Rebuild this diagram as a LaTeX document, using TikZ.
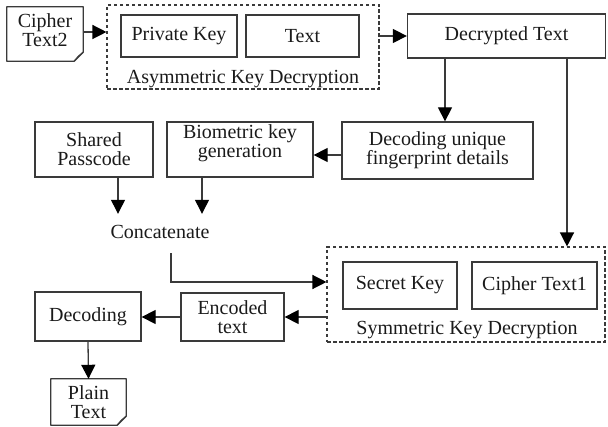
\documentclass[tikz,border=0pt]{standalone}
\usepackage{fontspec}
\setmainfont{Liberation Serif}
\usetikzlibrary{arrows.meta}
\definecolor{ink}{HTML}{3A3A3A}
\definecolor{txt}{HTML}{1A1A1A}
\tikzset{
  box/.style={draw=ink, line width=1.3pt, inner sep=0pt, align=center, text=txt},
  group/.style={draw=ink, line width=1.1pt, dash pattern=on 3.5pt off 2.5pt, inner sep=0pt},
  lbl/.style={inner sep=0pt, align=center, text=txt},
  arr/.style={draw=ink, line width=1.3pt, -{Triangle[length=14pt,width=14pt,color=black]}},
}
% outline of a page with a folded bottom-right corner, drawn round a node
\newcommand{\pageshape}[2]{%
  \draw[ink, line width=1.3pt, line join=round]
    (#1.north west) -- (#1.north east) -- ([yshift=#2]#1.south east)
    -- ([xshift=-#2]#1.south east) -- (#1.south west) -- cycle;
  \draw[ink, line width=1.0pt, line join=round]
    ([yshift=#2]#1.south east) -- ([xshift=-0.55*#2,yshift=0.55*#2]#1.south east)
    -- ([xshift=-#2]#1.south east);
}
\begin{document}
\begin{tikzpicture}[x=1pt, y=-1pt, font=\fontsize{20}{19}\selectfont]
\useasboundingbox (0,0) rectangle (608,427);

% ---- asymmetric stage ----
\node[lbl, minimum width=76pt, minimum height=54pt] (c2) at (45,34) {};
\pageshape{c2}{9pt}
\node[lbl] (c2t) at (45,30) {Cipher\\Text2};

\node[group, minimum width=272pt, minimum height=84pt] (asym) at (243,47) {};
\node[box, minimum width=116pt, minimum height=42pt] (pk) at (179,36) {Private Key};
\node[box, minimum width=113pt, minimum height=42pt] (tx) at (302.5,36) {Text};
\node[lbl] (asyml) at (243,79) {Asymmetric Key Decryption};

\node[box, minimum width=198pt, minimum height=44pt] (dec) at (506.5,36) {Decrypted Text};

% ---- key generation ----
\node[box, minimum width=191pt, minimum height=57pt] (duf) at (437.5,150.5) {Decoding unique\\fingerprint details};
\node[box, minimum width=146pt, minimum height=55pt] (bio) at (240,149.5) {};
\node[lbl] (biot) at (240,143) {Biometric key\\generation};
\node[box, minimum width=118pt, minimum height=55pt] (sp) at (94,149.5) {Shared\\Passcode};
\node[lbl, minimum height=36pt] (cat) at (160,232) {Concatenate};

% ---- symmetric stage ----
\node[group, minimum width=278pt, minimum height=95pt] (sym) at (466,294.5) {};
\node[box, minimum width=114pt, minimum height=47pt] (sk) at (400,285.5) {Secret Key};
\node[box, minimum width=125pt, minimum height=47pt] (ct1) at (534.5,285.5) {Cipher Text1};
\node[lbl] (syml) at (467,330) {Symmetric Key Decryption};

\node[box, minimum width=103pt, minimum height=48pt] (enc) at (232.5,317) {Encoded\\text};
\node[box, minimum width=106pt, minimum height=49pt] (decd) at (88,316.5) {Decoding};

\node[lbl, minimum width=75pt, minimum height=46pt] (pt) at (88.5,402) {Plain\\Text};
\pageshape{pt}{9pt}

% ---- connectors ----
\coordinate (ya) at (0,32);
\coordinate (xb) at (445,0);
\coordinate (yc) at (0,155);
\coordinate (xd) at (567,0);
\coordinate (xe) at (118,0);
\coordinate (xf) at (202,0);
\coordinate (xg) at (171,0);
\coordinate (yh) at (0,282);

\draw[arr] (ya -| c2.east) -- (ya -| asym.west);
\draw[arr] (dec.west -| asym.east) -- (dec.west);
\draw[arr] (xb |- dec.south) -- (xb |- duf.north);
\draw[arr] (yc -| duf.west) -- (yc -| bio.east);
\draw[arr] (xd |- dec.south) -- (xd |- sym.north);
\draw[arr] (xe |- sp.south) -- (xe |- cat.north);
\draw[arr] (xf |- bio.south) -- (xf |- cat.north);
\draw[arr] ([yshift=-3pt]xg |- cat.south) |- (yh -| sym.west);
\draw[arr] (enc.east -| sym.west) -- (enc.east);
\draw[arr] (enc.west) -- (enc.west -| decd.east);
\draw[arr] (decd.south) -- (pt.north);
\end{tikzpicture}
\end{document}
